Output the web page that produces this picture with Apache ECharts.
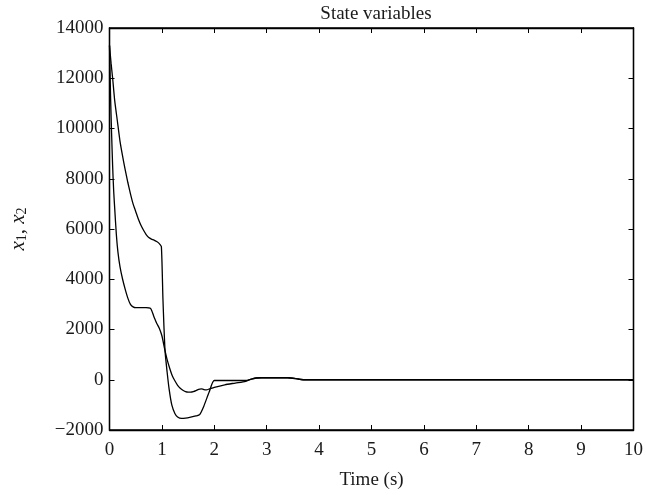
<!DOCTYPE html>
<html>
<head>
<meta charset="utf-8">
<script src="https://cdn.jsdelivr.net/npm/echarts@6/dist/echarts.min.js"></script>
<style>html,body{margin:0;padding:0;background:#fff}#c{width:646px;height:495px}</style>
</head>
<body>
<div id="c"></div>
<script>
// Fast-decaying state (plateau ~2870)
const tFast = [0, 0.01, 0.02, 0.04, 0.06, 0.08, 0.1, 0.13, 0.16, 0.2, 0.25, 0.3, 0.35, 0.4, 0.45, 0.5, 0.6, 0.7, 0.78, 0.85, 0.9, 0.95, 1.0, 1.05, 1.1, 1.15, 1.2, 1.25, 1.3, 1.35, 1.4, 1.45, 1.5, 1.55, 1.6, 1.65, 1.7, 1.75, 1.8, 1.85, 1.9, 2.0, 2.2, 2.4, 2.6, 2.7, 2.8, 2.9, 3.4, 3.6, 3.7, 10];
const xFast = [13300, 12300, 11300, 9800, 8500, 7500, 6800, 5800, 5100, 4500, 4000, 3600, 3250, 3000, 2900, 2870, 2870, 2870, 2850, 2500, 2250, 2050, 1750, 1250, 800, 450, 150, -50, -220, -340, -420, -470, -490, -490, -470, -430, -380, -360, -390, -400, -370, -300, -200, -130, -60, 20, 70, 80, 80, 30, 0, 0];
// Slow-decaying state (plateau ~5500, sharp drop at t=1)
const tSlow = [0, 0.03, 0.06, 0.1, 0.15, 0.2, 0.25, 0.3, 0.35, 0.4, 0.45, 0.5, 0.55, 0.6, 0.65, 0.7, 0.75, 0.8, 0.85, 0.9, 0.95, 0.99, 1.02, 1.06, 1.1, 1.14, 1.19, 1.25, 1.3, 1.375, 1.45, 1.55, 1.65, 1.72, 1.8, 1.9, 2.0, 2.3, 2.6, 2.7, 2.8, 2.9, 3.4, 3.6, 3.7, 10];
const xSlow = [13300, 12600, 12000, 11100, 10300, 9500, 8900, 8350, 7850, 7400, 7000, 6700, 6400, 6150, 5950, 5780, 5660, 5600, 5560, 5500, 5420, 5300, 3200, 1150, 300, -400, -1010, -1350, -1480, -1540, -1530, -1490, -1440, -1390, -1050, -500, -30, -30, -30, 20, 70, 80, 80, 30, 0, 0];
const xTicks = [0, 1, 2, 3, 4, 5, 6, 7, 8, 9, 10];
const yTicks = [-2000, 0, 2000, 4000, 6000, 8000, 10000, 12000, 14000];

const font = 'Liberation Serif';
const txt = '#1a1a1a';
const zip = (a, b) => a.map((v, i) => [v, b[i]]);
const chart = echarts.init(document.getElementById('c'), null, {renderer: 'canvas'});
const axisLine = {show: true, onZero: false, lineStyle: {color: '#000', width: 1.3}};
const tick = {show: true, inside: true, length: 5, lineStyle: {color: '#000', width: 1}};
chart.setOption({
  animation: false,
  backgroundColor: '#fff',
  title: {
    text: 'State variables', left: 371, top: 0, textAlign: 'center',
    textStyle: {fontFamily: font, fontSize: 19, fontWeight: 'normal', color: txt}
  },
  grid: {left: 107, right: 7, top: 28, bottom: 64, show: true, borderColor: '#000', borderWidth: 1.3},
  xAxis: [{
    type: 'value', min: xTicks[0], max: xTicks[xTicks.length - 1], interval: 1,
    axisLine, axisTick: tick, splitLine: {show: false},
    axisLabel: {fontFamily: font, fontSize: 19, color: txt, margin: 11},
    name: 'Time (s)', nameLocation: 'middle', nameGap: 41,
    nameTextStyle: {fontFamily: font, fontSize: 19, color: txt}
  }, {
    type: 'value', position: 'top', min: 0, max: 10, interval: 1,
    axisLine, axisTick: tick, axisLabel: {show: false}, splitLine: {show: false}
  }],
  yAxis: [{
    type: 'value', min: yTicks[0], max: yTicks[yTicks.length - 1], interval: 2000,
    axisLine, axisTick: tick, splitLine: {show: false},
    axisLabel: {fontFamily: font, fontSize: 19, color: txt, margin: 6,
      formatter: v => String(v).replace('-', '\u2212')},
    name: '{i|x}{s|1}{n|, }{i|x}{s|2}', nameLocation: 'middle', nameGap: 80, nameRotate: 90,
    nameTextStyle: {
      rich: {
        i: {fontFamily: font, fontStyle: 'italic', fontSize: 21, color: txt},
        n: {fontFamily: font, fontSize: 21, color: txt},
        s: {fontFamily: font, fontSize: 14, color: txt, verticalAlign: 'bottom', padding: [8, 0, 0, 0]}
      }
    }
  }, {
    type: 'value', position: 'right', min: -2000, max: 14000, interval: 2000,
    axisLine, axisTick: tick, axisLabel: {show: false}, splitLine: {show: false}
  }],
  series: [{
    type: 'line', data: zip(tFast, xFast), showSymbol: false, smooth: 0.25,
    lineStyle: {color: '#000', width: 1.3}, z: 3
  }, {
    type: 'line', data: zip(tSlow, xSlow), showSymbol: false, smooth: 0.2,
    lineStyle: {color: '#000', width: 1.3}, z: 3
  }]
});
</script>
</body>
</html>
